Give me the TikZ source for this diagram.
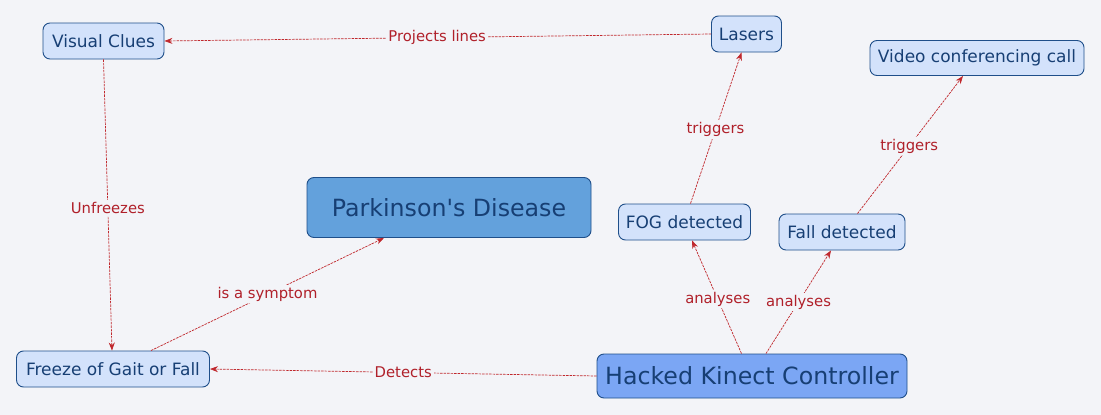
\documentclass[tikz,border=0pt]{standalone}
\usepackage{fontspec}
\setmainfont{DejaVu Sans}
\usetikzlibrary{arrows.meta}
\definecolor{bgc}{HTML}{F3F4F8}
\definecolor{nfill}{HTML}{D3E2FB}
\definecolor{nborder}{HTML}{1F4F8A}
\definecolor{ntext}{HTML}{173F74}
\definecolor{pfill}{HTML}{63A1DC}
\definecolor{hfill}{HTML}{7BA6F4}
\definecolor{ecol}{HTML}{C0282D}
\definecolor{lcol}{HTML}{B0202A}
\tikzset{
  concept/.style={draw=nborder, line width=0.9pt, rounded corners=7pt, fill=nfill,
    text=ntext, inner sep=0pt, align=center, font=\fontsize{17}{20}\selectfont},
  bigconcept/.style={concept, font=\fontsize{23.7}{28}\selectfont},
  link/.style={draw=ecol, line width=0.7pt, dash pattern=on 2.5pt off 1pt, -{Stealth[length=8pt,width=6pt]}},
  lbl/.style={fill=bgc, text=lcol, inner sep=2pt, font=\fontsize{14.8}{17}\selectfont}
}
\begin{document}
\begin{tikzpicture}[x=1pt,y=-1pt]
\useasboundingbox[fill=bgc] (0,0) rectangle (1101,415);
\node[concept, minimum width=121pt, minimum height=36pt] (vc) at (103.5,41) {Visual Clues};
\node[concept, minimum width=70pt, minimum height=36pt] (las) at (746.5,34) {Lasers};
\node[concept, minimum width=214pt, minimum height=35pt] (vid) at (977,58) {Video conferencing call};
\node[bigconcept, fill=pfill, minimum width=284pt, minimum height=60pt] (pd) at (449,207.5) {Parkinson\textquotesingle s Disease};
\node[concept, minimum width=132pt, minimum height=36pt] (fog) at (684.5,222) {FOG detected};
\node[concept, minimum width=126pt, minimum height=36pt] (fall) at (842,232) {Fall detected};
\node[concept, minimum width=193pt, minimum height=36pt] (fz) at (113,369) {Freeze of Gait or Fall};
\node[bigconcept, fill=hfill, minimum width=310pt, minimum height=44pt] (hk) at (752,376) {Hacked Kinect Controller};

\draw[link] (las.west) -- node[lbl, pos=0.501] {Projects lines} (vc.east);
\draw[link] (vc.south) -- node[lbl, pos=0.51] {Unfreezes} ([xshift=-1pt]fz.north);
\draw[link] ([xshift=38pt]fz.north) -- node[lbl, pos=0.5] {is a symptom} ([xshift=-65pt]pd.south);
\draw[link] (hk.west) -- node[lbl, pos=0.5] {Detects} (fz.east);
\draw[link] ([xshift=-10.5pt]hk.north) -- node[lbl, pos=0.48] {analyses} ([xshift=7.5pt]fog.south);
\draw[link] ([xshift=14pt]hk.north) -- node[lbl, pos=0.5] {analyses} ([xshift=-11pt]fall.south);
\draw[link] ([xshift=6pt]fog.north) -- node[lbl, pos=0.49] {triggers} ([xshift=-5pt]las.south);
\draw[link] ([xshift=15.5pt]fall.north) -- node[lbl, pos=0.49] {triggers} ([xshift=-14pt]vid.south);
\end{tikzpicture}
\end{document}
